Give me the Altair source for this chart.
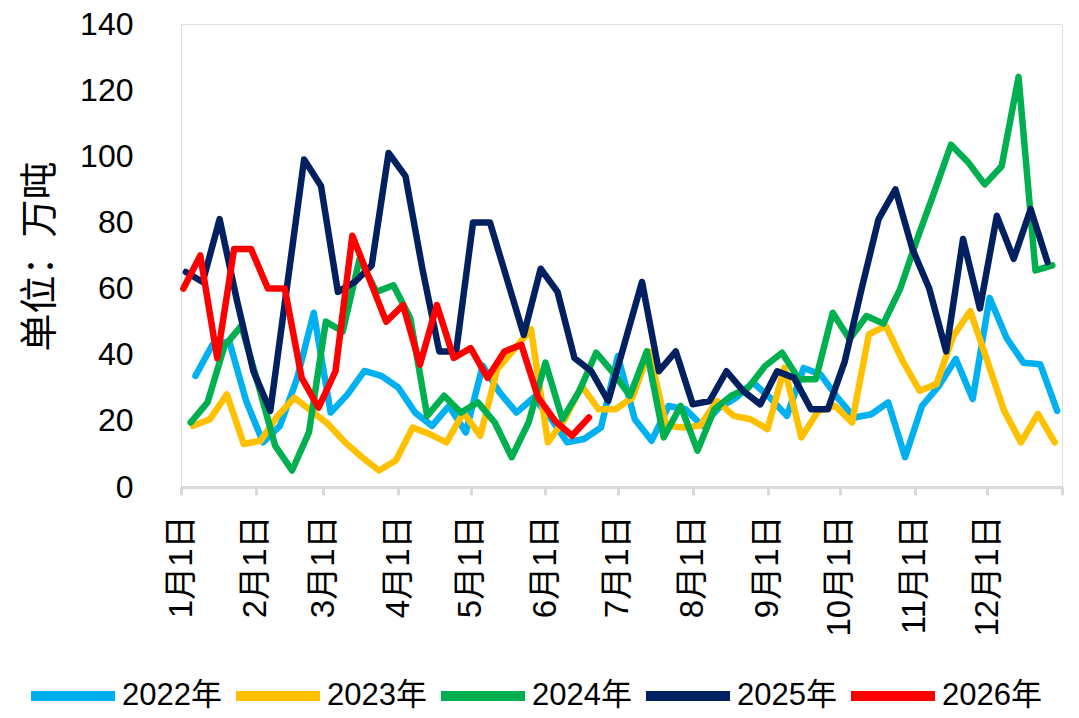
import altair as alt
import pandas as pd

series = ["2022年", "2023年", "2024年", "2025年", "2026年"]
colors = ["#00B0F0", "#FFC000", "#00B050", "#002060", "#FF0000"]
# day-of-year of the first weekly (Friday) observation in each year
first_day = [6, 5, 4, 2, 1]

v2022 = [33.6, 43, 44, 26, 13.5, 18.5, 32.6, 52.7, 22.5, 28,
         35.1, 33.6, 30.1, 22.5, 18.5, 24.5, 16.5, 36.7, 28.6, 22.5,
         27, 21, 13.5, 14.5, 18, 39.6, 20.5, 14, 24.5, 23.5,
         18.5, 24, 27, 31.6, 27, 21.5, 36, 34, 27, 21,
         22, 25.6, 9, 24.5, 30.6, 38.7, 26.6, 57.2, 45.1, 37.6,
         37.1, 23]
v2023 = [18.5, 20.5, 28, 13, 14, 21.5, 27, 23, 19, 13.5,
         9, 5, 8, 18, 16, 13.5, 22.5, 15.5, 35.6, 41.6,
         47.7, 13.5, 20.5, 30.6, 23.5, 23.5, 27, 41, 18.5, 18,
         18.5, 26, 21.5, 20.5, 17.5, 36, 15, 23, 24.5, 19.5,
         46.2, 48.7, 38.1, 29.1, 31.1, 45.7, 53.2, 38.2, 23.1, 13.5,
         22.1, 13.5]
v2024 = [19.5, 25.6, 42.6, 48.7, 31, 12.5, 5, 16.5, 50, 47,
         69, 59, 61, 51, 21.5, 27.6, 22.5, 25.6, 19.5, 9,
         19.5, 37.6, 20.5, 29, 40.6, 34.6, 27.6, 41, 15, 24.5,
         11, 23.5, 27.6, 30, 36.6, 40.6, 32.6, 32.6, 52.7, 44.7,
         51.7, 49.4, 60, 75, 89, 103.5, 98.3, 91.5, 97, 124,
         65.5, 67]
v2025 = [65, 62, 81, 57, 35, 23, 61, 99, 91, 59,
         62, 67, 101, 94, 66, 41, 41, 80, 80, 63,
         46, 66, 59, 39, 35, 26, 44, 62, 35, 41,
         25, 26, 35, 29, 25, 35, 33, 23.5, 23.5, 38,
         60, 81, 90, 72, 60, 41, 75, 54, 82, 69,
         84, 68]
v2026 = [60, 70, 39, 72, 72, 60, 60, 33, 24, 35,
         76, 63, 50, 55, 37, 55, 39, 42, 33, 41,
         43, 27, 20, 15.5, 21]

month_starts = [0, 31, 59, 90, 120, 151, 181, 212, 243, 273, 304, 334]
y_ticks = [0, 20, 40, 60, 80, 100, 120, 140]

rows = []
for i, (name, start, vals) in enumerate(zip(series, first_day, [v2022, v2023, v2024, v2025, v2026])):
    for k, v in enumerate(vals):
        rows.append({"series": name, "day": start + 7 * k, "value": v, "idx": i})
df = pd.DataFrame(rows)

NUM_FONT = "Liberation Sans, Arial, Noto Sans CJK SC, sans-serif"
CJK_FONT = "Noto Sans CJK SC, sans-serif"

label_expr = ("datum.value >= 365 ? '' : (indexof(" + str(month_starts) +
              ", datum.value) + 1) + '月1日'")

chart = alt.Chart(df).mark_line(
    strokeWidth=6.5, strokeCap="round", strokeJoin="round"
).encode(
    x=alt.X("day:Q",
            scale=alt.Scale(domain=[0, 365], nice=False, zero=False),
            axis=alt.Axis(values=month_starts + [365], labelExpr=label_expr,
                          title=None, grid=False,
                          domainColor="#D9D9D9", domainWidth=3,
                          tickColor="#D9D9D9", tickWidth=3, tickSize=8,
                          labelAngle=270, labelFontSize=33, labelFont=NUM_FONT,
                          labelColor="#000000", labelPadding=20,
                          labelOverlap=False, labelFlush=False)),
    y=alt.Y("value:Q",
            scale=alt.Scale(domain=[0, 140], nice=False),
            axis=alt.Axis(values=y_ticks, title="单位：万吨", grid=False,
                          domain=False, ticks=False,
                          labelFontSize=32, labelFont=NUM_FONT, labelColor="#000000",
                          labelPadding=48,
                          titleFont=CJK_FONT, titleFontSize=38, titleFontWeight="normal",
                          titleColor="#000000", titleAngle=270,
                          titleX=-141, titleY=232, titleAlign="center",
                          titleBaseline="middle")),
    color=alt.Color("series:N",
                    scale=alt.Scale(domain=series, range=colors),
                    legend=alt.Legend(title=None, orient="none", legendX=-155, legendY=625,
                                      direction="horizontal", columns=5,
                                      symbolType="stroke", symbolSize=7056,
                                      symbolStrokeWidth=10,
                                      labelFontSize=31, labelFont=NUM_FONT,
                                      labelColor="#000000", labelOffset=2,
                                      columnPadding=-6, labelLimit=0)),
    order=alt.Order("day:Q"),
).properties(
    width=881, height=463,
    padding={"left": 173, "top": 16, "right": 9, "bottom": 223},
    autosize=alt.AutoSizeParams(type="none"),
).configure_view(stroke=None).configure(background="white")

chart.save("out.html", embed_options={"renderer": "svg", "actions": False})
